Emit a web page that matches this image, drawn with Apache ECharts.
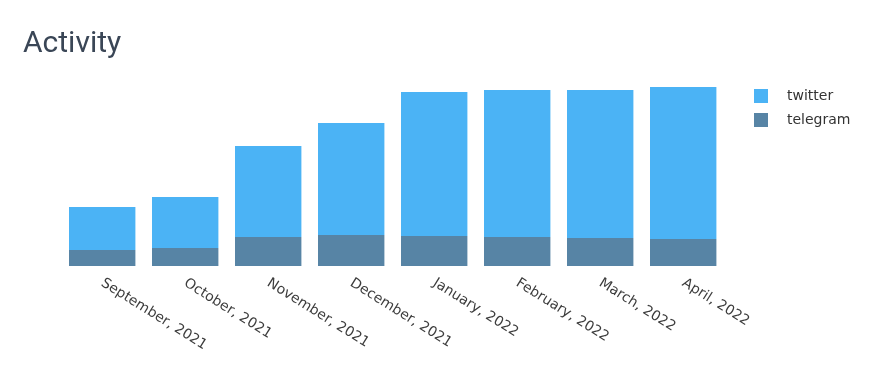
<!DOCTYPE html>
<html><head><meta charset="utf-8">
<script src="https://cdn.jsdelivr.net/npm/echarts@6/dist/echarts.min.js"></script>
<style>html,body{margin:0;padding:0;background:#fff}#c{width:888px;height:376px}</style>
</head><body><div id="c"></div>
<script>
const categories = ["September, 2021","October, 2021","November, 2021","December, 2021","January, 2022","February, 2022","March, 2022","April, 2022"];
const telegram = [16, 18, 29, 31, 30, 29, 28, 27];
const twitter = [43, 51, 91, 112, 144, 147, 148, 152];
const chart = echarts.init(document.getElementById('c'));
chart.setOption({
  animation: false,
  title: { text: 'Activity', left: 18, top: 24, textStyle: { fontFamily: 'Roboto', fontSize: 30, fontWeight: 'normal', color: '#3a4656' } },
  legend: {
    orient: 'vertical', left: 754, top: 89, padding: 0, itemWidth: 14, itemHeight: 14, itemGap: 10,
    icon: 'rect', data: ['twitter','telegram'],
    textStyle: { fontFamily: 'DejaVu Sans', fontSize: 14, color: '#333', padding: [0,0,0,14] }
  },
  grid: { left: 60.7, right: 163.3, top: 86, bottom: 110, containLabel: false },
  xAxis: {
    type: 'category', data: categories,
    axisLine: { show: false }, axisTick: { show: false },
    axisLabel: { rotate: -32, interval: 0, margin: 16, fontFamily: 'DejaVu Sans', fontSize: 14, color: '#3c3c3c' }
  },
  yAxis: { type: 'value', min: 0, max: 180, show: false, splitLine: { show: false } },
  series: [
    { name: 'telegram', type: 'bar', stack: 'a', data: telegram, barCategoryGap: '20%', itemStyle: { color: '#5784a5' } },
    { name: 'twitter', type: 'bar', stack: 'a', data: twitter, barCategoryGap: '20%', itemStyle: { color: '#4bb3f5' } }
  ]
});
</script></body></html>
